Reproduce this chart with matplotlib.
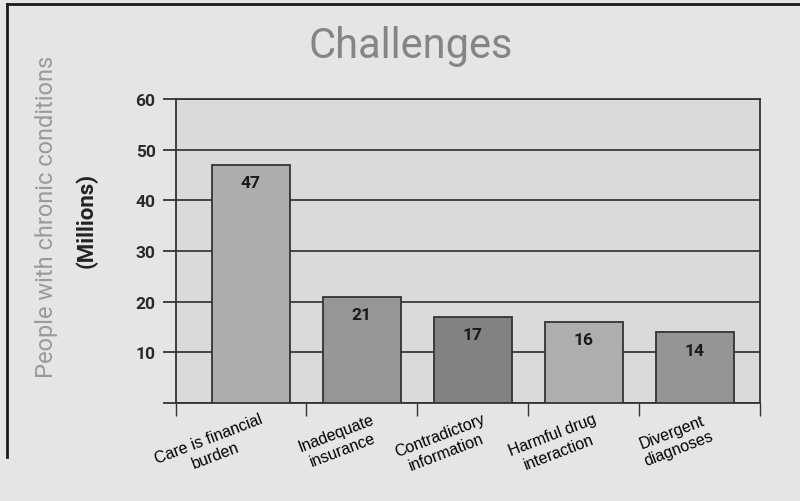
#!/usr/bin/env python3
"""
Challenges bar chart - people with chronic conditions (millions)
"""

import matplotlib
matplotlib.use('Agg')
import matplotlib.pyplot as plt
from matplotlib.lines import Line2D


# ============================================================================
# DATA
# ============================================================================
CATEGORIES = ['Care is financial\nburden', 'Inadequate\ninsurance',
              'Contradictory\ninformation', 'Harmful drug\ninteraction',
              'Divergent\ndiagnoses']
VALUES = [47, 21, 17, 16, 14]
BAR_COLORS = ['#adadad', '#969696', '#828282', '#aeaeae', '#959595']
Y_TICKS = [0, 10, 20, 30, 40, 50, 60]
Y_TICK_LABELS = ['', '10', '20', '30', '40', '50', '60']
# ============================================================================

SANS = ['Roboto', 'DejaVu Sans']
DARK = '#333333'

fig = plt.figure(figsize=(8, 5.02), dpi=100, facecolor='#e5e5e5')
ax = fig.add_axes([0.2196, 0.1952, 0.7304, 0.6056])
ax.set_facecolor('#dadada')

x = list(range(len(CATEGORIES)))
ax.bar(x, VALUES, width=0.70, color=BAR_COLORS, edgecolor=DARK,
       linewidth=1.3, zorder=3)

ax.set_xlim(-0.676, 4.586)
ax.set_ylim(0, 60)

# y axis: ticks extend out to the left like the gridlines
ax.set_yticks(Y_TICKS)
ax.set_yticklabels(Y_TICK_LABELS, fontfamily=SANS, fontsize=12.5,
                   fontweight='bold', color='#2a2a2a')
ax.tick_params(axis='y', direction='out', length=9.5, width=1.3,
               color=DARK, pad=5)
ax.yaxis.grid(True, color='#3a3a3a', linewidth=1.3, zorder=1)
ax.set_axisbelow(True)

# x axis: ticks at category boundaries, labels drawn by hand
ax.set_xticks([])
ax.set_xticks([-0.676, 0.5, 1.5, 2.5, 3.5, 4.586], minor=True)
ax.tick_params(axis='x', which='minor', direction='out', length=9.5,
               width=1.0, color=DARK)

for side in ['left', 'right', 'top', 'bottom']:
    ax.spines[side].set_color(DARK)
    ax.spines[side].set_linewidth(1.3)

for i, lab in enumerate(CATEGORIES):
    ax.annotate(lab, xy=(i + 0.08, 0), xycoords=('data', 'axes fraction'),
                xytext=(0, -6), textcoords='offset points',
                ha='right', va='top', rotation=21, rotation_mode='anchor',
                multialignment='center', fontsize=11.5,
                fontfamily=['Liberation Sans', 'DejaVu Sans'],
                color='#000000')

# value labels inside the bar tops
for i, v in enumerate(VALUES):
    ax.annotate(str(v), xy=(i, v), xytext=(0, -13), textcoords='offset points',
                ha='center', va='center', fontsize=12.5, fontweight='bold',
                fontfamily=SANS, color='#1a1a1a', zorder=4)

# titles
fig.text(411 / 800, 1 - 58 / 502, 'Challenges', ha='center', va='baseline',
         fontsize=30, fontfamily=SANS, color='#858585')
fig.text(47 / 800, 1 - 217 / 502, 'People with chronic conditions',
         rotation=90, ha='center', va='center', fontsize=17,
         fontfamily=SANS, color='#9a9a9a')
fig.text(86 / 800, 1 - 220 / 502, '(Millions)', rotation=90, ha='center',
         va='center', fontsize=16, fontweight='bold', fontfamily=SANS,
         color='#222222')

# frame lines on the left and top edges
fig.add_artist(Line2D([7 / 800, 7 / 800], [1 - 5 / 502, 1 - 458 / 502],
                      transform=fig.transFigure, color='#1a1a1a', lw=2))
fig.add_artist(Line2D([7 / 800, 1], [1 - 5 / 502, 1 - 5 / 502],
                      transform=fig.transFigure, color='#1a1a1a', lw=2))

fig.savefig('out.png', dpi=100, facecolor=fig.get_facecolor())
plt.close(fig)
